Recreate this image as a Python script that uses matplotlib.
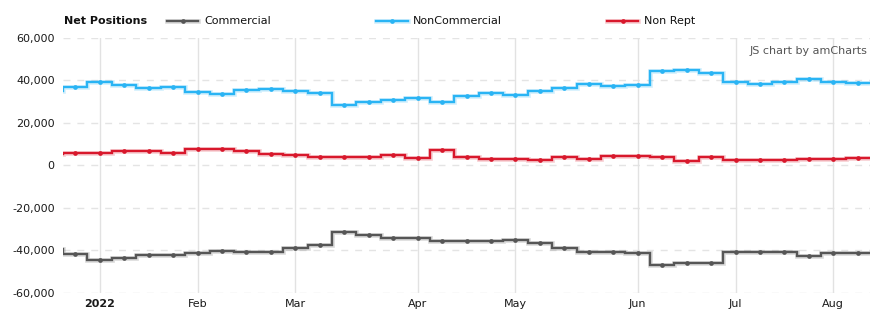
import numpy as np
import matplotlib
matplotlib.use("Agg")
import matplotlib.pyplot as plt
from matplotlib.lines import Line2D
import pandas as pd

# ---- data ----
dates = ["2021-12-21", "2021-12-28", "2022-01-04", "2022-01-11", "2022-01-18",
         "2022-01-25", "2022-02-01", "2022-02-08", "2022-02-15", "2022-02-22",
         "2022-03-01", "2022-03-08", "2022-03-15", "2022-03-22", "2022-03-29",
         "2022-04-05", "2022-04-12", "2022-04-19", "2022-04-26", "2022-05-03",
         "2022-05-10", "2022-05-17", "2022-05-24", "2022-05-31", "2022-06-07",
         "2022-06-14", "2022-06-21", "2022-06-28", "2022-07-05", "2022-07-12",
         "2022-07-19", "2022-07-26", "2022-08-02", "2022-08-09"]

commercial = [-39500, -41900, -44600, -43500, -42100, -42100, -41600, -40200,
              -41100, -41100, -38800, -37400, -31700, -33100, -34500, -34500,
              -35500, -35500, -35900, -35300, -36700, -39200, -40700, -40700,
              -41400, -47200, -46100, -46100, -41100, -40700, -41100, -43000,
              -41400, -41400]

noncommercial = [35000, 37000, 39200, 37900, 36500, 37000, 34600, 33700,
                 35600, 36000, 35100, 34200, 28500, 29900, 30900, 31800,
                 29900, 32700, 34200, 33200, 35100, 36500, 38400, 37500,
                 37900, 44500, 45000, 43600, 39300, 38400, 39300, 40700,
                 39300, 38900]

nonrept = [5500, 5900, 5900, 6600, 6600, 5900, 7500, 7500, 6600, 5500, 5000,
           4100, 4100, 4100, 4700, 3600, 7100, 3800, 3100, 3100, 2600, 3800,
           3100, 4200, 4200, 3800, 2200, 3800, 2600, 2600, 2600, 3100, 3100,
           3600]

series_names = ["Commercial", "NonCommercial", "Non Rept"]
series_values = [commercial, noncommercial, nonrept]
series_colors = ["#565656", "#2ab4f4", "#d8182c"]

y_ticks = [-60000, -40000, -20000, 0, 20000, 40000, 60000]

# ---- figure ----
W, H = 884, 326
fig = plt.figure(figsize=(W / 100, H / 100), dpi=100)
plt.rcParams["font.family"] = ["DejaVu Sans"]

left_px, right_px, top_px, bot_px = 63, 870, 38, 292.5
ax = fig.add_axes([left_px / W, 1 - bot_px / H,
                   (right_px - left_px) / W, (bot_px - top_px) / H])

dt = pd.to_datetime(dates)
n = len(dates)
x = np.arange(n)
edges = np.arange(n + 1) - 0.5

for name, vals, col in zip(series_names, series_values, series_colors):
    v = np.array(vals, dtype=float)
    ax.stairs(v, edges, baseline=None, color=col, lw=3.4, alpha=0.2, zorder=3)
    ax.stairs(v, edges, baseline=None, color=col, lw=1.7, zorder=4)
    ax.plot(x, v, "o", color=col, ms=3.4, mew=0, zorder=5)

ax.set_xlim(0.5, n - 0.5)
ax.set_ylim(-60000, 60000)

# month ticks at first data point of each month
month_pos, month_lab = [], []
for i in range(1, n):
    if dt[i].month != dt[i - 1].month:
        month_pos.append(i)
        month_lab.append(str(dt[i].year) if dt[i].month == 1 else dt[i].strftime("%b"))
ax.set_xticks(month_pos)
ax.set_xticklabels(month_lab)
for lab in ax.get_xticklabels():
    if lab.get_text().isdigit():
        lab.set_fontweight("bold")

ax.set_yticks(y_ticks)
ax.set_yticklabels([f"{t:,}" for t in y_ticks])

ax.tick_params(axis="both", length=0, labelsize=8, colors="#1a1a1a")
ax.tick_params(axis="y", pad=6)
ax.tick_params(axis="x", pad=5)

for s in ax.spines.values():
    s.set_visible(False)

for t in y_ticks:
    ax.axhline(t, color="#e4e4e4", lw=1, ls=(0, (5, 5)), zorder=1)
for p in month_pos:
    ax.axvline(p, color="#e2e2e2", lw=1, zorder=1)

# ---- legend ----
ly = 1 - 21 / H
fig.text(64 / W, ly, "Net Positions", fontsize=8, fontweight="bold",
         va="center", ha="left", color="#111111")
legend_pos = [(167, 198, 204), (376, 408, 413), (607, 638, 644)]
for (x0, x1, xt), name, col in zip(legend_pos, series_names, series_colors):
    fig.add_artist(Line2D([x0 / W, x1 / W], [ly, ly], color=col, lw=3.4, alpha=0.2,
                          transform=fig.transFigure))
    fig.add_artist(Line2D([x0 / W, x1 / W], [ly, ly], color=col, lw=1.7,
                          transform=fig.transFigure))
    fig.add_artist(Line2D([(x0 + x1) / 2 / W], [ly], color=col, marker="o", ms=3.4,
                          mew=0, transform=fig.transFigure))
    fig.text(xt / W, ly, name, fontsize=8, va="center", ha="left", color="#111111")

fig.text(867 / W, 1 - 51.5 / H, "JS chart by amCharts", fontsize=8,
         va="center", ha="right", color="#555555")

fig.savefig("out.png", dpi=100)
